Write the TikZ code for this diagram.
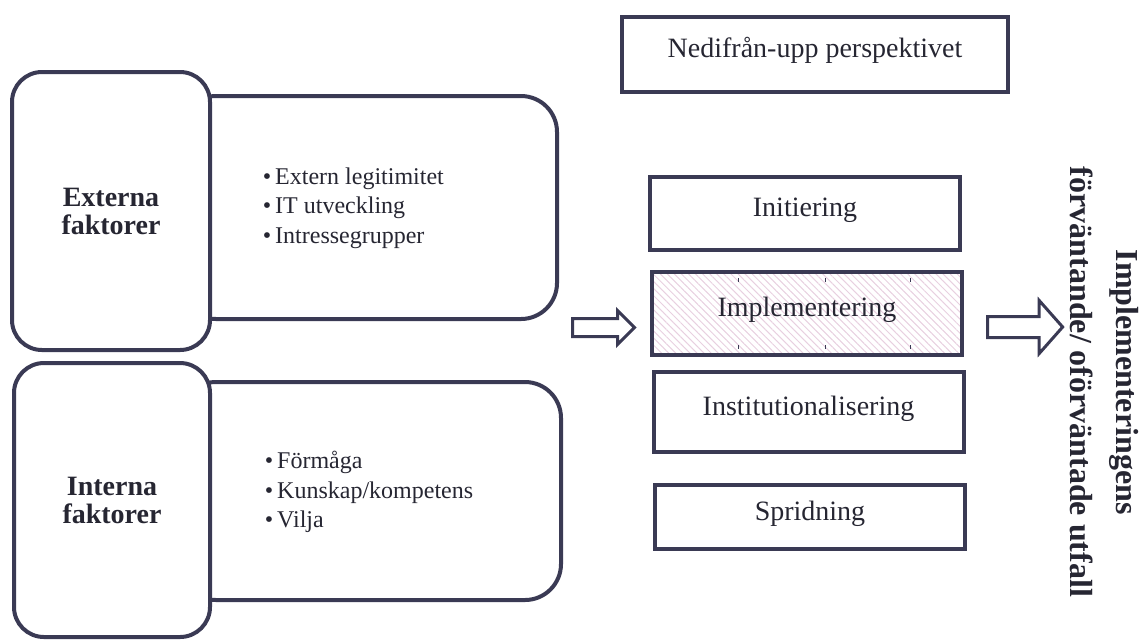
\documentclass[tikz,border=0pt]{standalone}
\usepackage{fontspec}
\setmainfont{Liberation Serif}
\usetikzlibrary{positioning,shapes.arrows,patterns.meta}

\definecolor{boxline}{RGB}{58,58,84}
\definecolor{inkgray}{RGB}{38,38,50}
\definecolor{hatchpink}{RGB}{232,208,224}

\begin{document}
\begin{tikzpicture}[x=0.5pt, y=-0.5pt, thick,
    panel/.style = {draw=boxline, line width=2pt, rounded corners=18pt},
    factor/.style = {draw=boxline, line width=2pt, rounded corners=15pt, fill=white, text=inkgray, align=center, font=\fontsize{14}{14}\selectfont\bfseries},
    items/.style = {text=inkgray, align=left, inner sep=0pt, font=\fontsize{12}{14.75}\selectfont},
    phase/.style = {draw=boxline, line width=2pt, text=inkgray, text height=10pt, text depth=7pt, minimum width=155pt, font=\fontsize{14}{17}\selectfont},
    hollow/.style = {draw=boxline, line width=1.5pt, fill=white, single arrow, single arrow head indent=0pt}]

\useasboundingbox (0,0) rectangle (1144,639);

% left side
\node[panel, minimum width=188.5pt, minimum height=111.5pt] (extpanel) at (368.5,207.5) {};
\node[panel, minimum width=190.5pt, minimum height=109pt] (intpanel) at (370.5,491) {};
\node[factor, minimum width=99pt, minimum height=139pt] (ext) at (111,211) {Externa\\faktorer};
\node[factor, minimum width=98pt, minimum height=137pt] (int) at (112,500) {Interna\\faktorer};
\node[items, right=25pt of ext, yshift=1.5pt] (extlist) {\textbullet\,Extern legitimitet\\\textbullet\,IT utveckling\\\textbullet\,Intressegrupper};
\node[items, right=26pt of int, yshift=4pt] (intlist) {\textbullet\,Förmåga\\\textbullet\,Kunskap/kompetens\\\textbullet\,Vilja};

% phases
\node[phase, minimum width=193pt, minimum height=37.5pt] (topbox) at (815,54.5) {Nedifrån-upp perspektivet};
\node[phase, minimum height=36.5pt] (ini) at (805,213.5) {Initiering};
\node[phase, minimum height=41.5pt, pattern={Lines[angle=-45,distance=2.5pt,line width=0.5pt]}, pattern color=hatchpink] (imp) at (807,313.5) {Implementering};
\node[phase, minimum height=40pt] (ins) at (808.5,412) {Institutionalisering};
\node[phase, minimum height=32pt] (spr) at (810,517) {Spridning};
\draw[boxline, line width=0.5pt] (738,278) -- (738,282) (825,278) -- (825,282) (910,278) -- (910,282)
    (738,345) -- (738,349) (825,345) -- (825,349) (910,345) -- (910,349);

% arrows
\node[hollow, inner sep=3.75pt, minimum height=31pt, single arrow head extend=4pt] (topha) at (599,327.5) {};
\node[hollow, inner sep=4.5pt, minimum height=37.5pt, single arrow head extend=8pt, single arrow tip angle=97] (toutf) at (1020.5,327) {};

% outcome
\node[text=inkgray, rotate=-90, align=center, font=\fontsize{16}{23}\selectfont\bfseries] (utfall) at (1104,382) {Implementeringens\\förväntande/ oförväntade utfall};
\end{tikzpicture}
\end{document}
